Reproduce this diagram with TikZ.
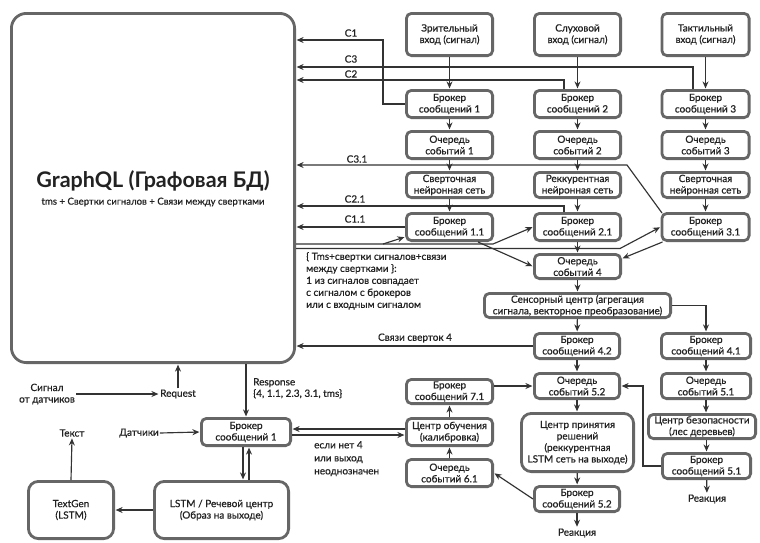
\documentclass[tikz,border=0pt]{standalone}
\usepackage{fontspec}
\setmainfont{Lato}[FakeBold=0.6]
\newfontfamily\titlefont{Lato}
\usetikzlibrary{arrows.meta,calc}
\definecolor{boxcol}{HTML}{666666}
\definecolor{linecol}{HTML}{333333}
\definecolor{txtcol}{HTML}{222222}
\begin{document}
\begin{tikzpicture}[x=1pt,y=-1pt,
  box/.style={draw=boxcol, line width=2.8pt, rounded corners=5pt, fill=white, align=center, inner sep=1pt, font=\fontsize{10}{11.5}\selectfont, text=txtcol},
  sz/.style 2 args={minimum width={#1pt-2.8pt}, minimum height={#2pt-2.8pt}},
  arr/.style={draw=linecol, line width=1.15pt, shorten >=0.6pt, -{Stealth[length=7pt,width=6pt]}},
  lbl/.style={font=\fontsize{10}{11.5}\selectfont, text=txtcol, inner sep=1pt, align=center},
]
\useasboundingbox[fill=white] (0,0) rectangle (760,542);

% big database box
\node[box, sz={286}{352}, rounded corners=15pt] (graph) at (153,188) {};
\node[font=\titlefont\fontsize{21.5}{23}\selectfont\bfseries, text=txtcol] (gtitle) at (153,181) {GraphQL (Графовая БД)};
\node[font=\fontsize{9.6}{11}\selectfont, text=txtcol] (gsub) at (153,202) {tms + Свертки сигналов + Связи между свертками};

% inputs
\node[box, sz={89}{45}] (in1) at (449.5,34.5) {Зрительный\\вход (сигнал)};
\node[box, sz={89}{45}] (in2) at (577.5,34.5) {Слуховой\\вход (сигнал)};
\node[box, sz={90}{45}] (in3) at (705.5,34.5) {Тактильный\\вход (сигнал)};
% brokers
\node[box, sz={89}{30}] (b1) at (449.5,104) {Брокер\\сообщений 1};
\node[box, sz={89}{30}] (b2) at (577.5,104) {Брокер\\сообщений 2};
\node[box, sz={90}{30}] (b3) at (705.5,104) {Брокер\\сообщений 3};
% queues
\node[box, sz={89}{30}] (q1) at (449.5,145) {Очередь\\событий 1};
\node[box, sz={89}{30}] (q2) at (577.5,145) {Очередь\\событий 2};
\node[box, sz={90}{30}] (q3) at (705.5,145) {Очередь\\событий 3};
% networks
\node[box, sz={89}{28}] (n1) at (449.5,185) {Сверточная\\нейронная сеть};
\node[box, sz={89}{28}] (n2) at (577.5,185) {Реккурентная\\нейронная сеть};
\node[box, sz={90}{28}] (n3) at (705.5,185) {Сверточная\\нейронная сеть};
% brokers x.1
\node[box, sz={89}{30}] (b11) at (449.5,227) {Брокер\\сообщений 1.1};
\node[box, sz={89}{30}] (b21) at (577.5,227) {Брокер\\сообщений 2.1};
\node[box, sz={90}{30}] (b31) at (705.5,227) {Брокер\\сообщений 3.1};
% lower part
\node[box, sz={89}{27}] (q4) at (577.5,266.5) {Очередь\\событий 4};
\node[box, sz={189}{27}] (sens) at (577.5,305.5) {Сенсорный центр (агрегация\\сигнала, векторное преобразование)};
\node[box, sz={88}{28}] (b42) at (577,346) {Брокер\\сообщений 4.2};
\node[box, sz={92}{28}] (b41) at (706,346) {Брокер\\сообщений 4.1};
\node[box, sz={88}{28}] (q52) at (577,386) {Очередь\\событий 5.2};
\node[box, sz={92}{28}] (q51) at (706,386) {Очередь\\событий 5.1};
\node[box, sz={115}{61}, rounded corners=10pt] (dec) at (577.5,442.5) {Центр принятия\\решений\\(реккурентная\\LSTM сеть на выходе)};
\node[box, sz={110}{27}] (sec) at (702,426.5) {Центр безопасности\\(лес деревьев)};
\node[box, sz={91}{28}] (b51) at (706.5,466) {Брокер\\сообщений 5.1};
\node[box, sz={88}{28}] (b52) at (577,499) {Брокер\\сообщений 5.2};
\node[box, sz={89}{27}] (b71) at (449.5,391.5) {Брокер\\сообщений 7.1};
\node[box, sz={89}{30}] (cob) at (449.5,432) {Центр обучения\\(калибровка)};
\node[box, sz={89}{30}] (q61) at (449.5,473) {Очередь\\событий 6.1};
\node[box, sz={92}{30}] (bb1) at (246,432) {Брокер\\сообщений 1};
\node[box, sz={137}{60}, rounded corners=10pt] (lstm) at (221.5,510) {LSTM / Речевой центр\\(Образ на выходе)};
\node[box, sz={88}{60}, rounded corners=10pt] (tg) at (71,510) {TextGen\\(LSTM)};

% plain texts
\node[lbl] (react1) at (577,533) {Реакция};
\node[lbl] (react2) at (707,499) {Реакция};
\node[lbl] (tekst) at (72,433) {Текст};
\node[lbl] (dat) at (139,433) {Датчики};
\node[lbl] (sig) at (47,394) {Сигнал\\от датчиков};
\node[lbl] (req) at (178,394) {Request};
\node[lbl, anchor=north west, align=left] (resp) at (252,377) {Response\\\{4, 1.1, 2.3, 3.1, tms\}};
\node[lbl, anchor=north west, align=left, font=\fontsize{10}{13}\selectfont] (esli) at (313,440) {если нет 4\\или выход\\неоднозначен};
\node[lbl, anchor=north west, align=left, font=\fontsize{10}{12}\selectfont] (note) at (305,251) {\{ Tms+свертки сигналов+связи\\между свертками \}:\\1 из сигналов совпадает\\с сигналом с брокеров\\или с входным сигналом};
\node[lbl] (lC1) at (351,33) {C1};
\node[lbl] (lC3) at (351,59) {C3};
\node[lbl] (lC2) at (351,74) {C2};
\node[lbl] (lC31) at (357,159) {C3.1};
\node[lbl] (lC21) at (355,199) {C2.1};
\node[lbl] (lC11) at (355,219) {C1.1};
\node[lbl] (lS4) at (415,338) {Связи сверток 4};

% vertical chains
\foreach \a/\b in {in1/b1,b1/q1,q1/n1,n1/b11,in2/b2,b2/q2,q2/n2,n2/b21,in3/b3,b3/q3,q3/n3,n3/b31,b21/q4,q4/sens,sens/b42,b42/q52,dec/b52,b52/react1,b41/q51,b51/react2,q61/cob,cob/b71}
  \draw[arr] (\a) -- (\b);
\draw[arr] (q52.south) -- (q52.south |- dec.north);
\draw[arr] (q51.south) -- (q51.south |- sec.north);
\draw[arr] (sec.south -| b51.north) -- (b51.north);

% C connections to the database
\coordinate (c1x) at (383,40);
\draw[arr] (b1.west) -| (c1x) -- (graph.east |- c1x);
\coordinate (c3p) at (693,67);
\draw[arr] (b3.north -| c3p) -- (c3p) -- (graph.east |- c3p);
\coordinate (c2p) at (564,80);
\draw[arr] (b2.north -| c2p) -- (c2p) -- (graph.east |- c2p);
\coordinate (c31p) at (627,165);
\draw[arr] ($(b31.north west)+(1.5,1)$) -- (c31p) -- (graph.east |- c31p);
\coordinate (c21p) at (564,206);
\draw[arr] (b21.north -| c21p) -- (c21p) -- (graph.east |- c21p);
\draw[arr] (b11.west) -- (graph.east |- b11.west);

% database responses to brokers x.1
\coordinate (dA) at (493,244);
\coordinate (dAb) at (383,244);
\coordinate (dB) at (620,248.5);
\draw[arr] (graph.east |- dA) -- (dA) -- (b21.west);
\draw[arr] (dAb) -- ($(b11.west)+(0,10)$);
\draw[arr] (graph.east |- dB) -- (dB) -- (b31.west);
\draw[arr] ($(b11.south east)+(-16,0)$) -- (q4.west);
\draw[arr] ($(b31.south west)+(2,0)$) -- ($(q4.east)+(0,-8)$);

% lower connections
\draw[arr] (b42.west) -- (graph.east |- b42.west);
\draw[arr] (sens.east) -| (b41.north);
\coordinate (b51x) at (643,0);
\draw[arr] (b51.west) -| (b51x |- q52.east) -- (q52.east);
\draw[arr] (b71.east |- q52.west) -- (q52.west);
\draw[arr] (b52.west) -- (q61.east);
\draw[arr] ($(cob.west)+(0,-3)$) -- ($(bb1.east)+(0,-3)$);
\draw[arr] ($(bb1.east)+(0,3)$) -- ($(cob.west)+(0,3)$);
\draw[arr] ([xshift=-3pt]bb1.south) -- ([xshift=-3pt]bb1.south |- lstm.north);
\draw[arr] ([xshift=3pt]bb1.south |- lstm.north) -- ([xshift=3pt]bb1.south);
\draw[arr] (lstm.west) -- (tg.east);
\draw[arr] (tg.north) -- (tekst.south);
\draw[arr] (dat.east) -- (bb1.west);
\draw[arr] (sig.east) -- (req.west);
\draw[arr] (req.north) -- (req.north |- graph.south);
\draw[arr] (graph.south -| bb1.north) -- (bb1.north);
\end{tikzpicture}
\end{document}
